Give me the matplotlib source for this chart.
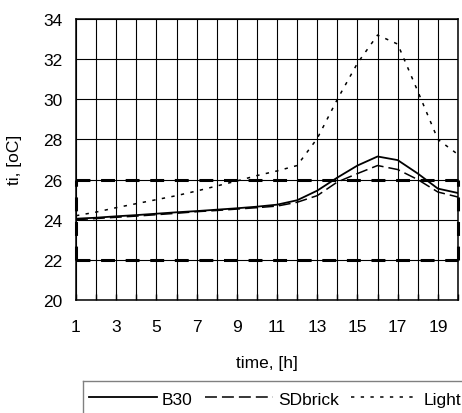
import matplotlib
matplotlib.use("Agg")
import matplotlib.pyplot as plt
from matplotlib.lines import Line2D

plt.rcParams["font.family"] = ["Liberation Sans", "DejaVu Sans"]
plt.rcParams["lines.scale_dashes"] = False

hours = list(range(1, 21))
b30 = [24.05, 24.1, 24.17, 24.23, 24.3, 24.37, 24.43, 24.5, 24.57, 24.65,
       24.75, 24.97, 25.45, 26.1, 26.7, 27.15, 26.97, 26.3, 25.55, 25.33]
sdbrick = [24.0, 24.06, 24.12, 24.18, 24.25, 24.32, 24.4, 24.46, 24.53, 24.6,
           24.68, 24.87, 25.2, 25.88, 26.3, 26.7, 26.5, 26.0, 25.38, 25.13]
light = [24.2, 24.38, 24.6, 24.8, 25.0, 25.2, 25.43, 25.68, 25.93, 26.2,
         26.43, 26.7, 28.05, 30.0, 31.8, 33.2, 32.75, 30.4, 28.0, 27.25]
comfort_low, comfort_high = 22, 26
x_labels = [str(h) if h % 2 == 1 else "" for h in hours]
y_ticks = list(range(20, 35, 2))

FS = 12.5

fig = plt.figure(figsize=(4.62, 4.14), dpi=100)
ax = fig.add_axes([76 / 462, 1 - 301 / 414, 382 / 462, 281 / 414])

ax.set_xlim(1, 20)
ax.set_ylim(20, 34)
ax.set_xticks(hours)
ax.set_xticklabels(x_labels)
ax.set_yticks(y_ticks)
ax.tick_params(axis="x", direction="in", length=4, width=1, pad=14, labelsize=FS)
ax.tick_params(axis="y", length=0, pad=10, labelsize=FS)
ax.grid(True, color="black", linewidth=0.8)
for s in ax.spines.values():
    s.set_linewidth(1.1)

# comfort zone box
box_style = dict(color="black", linewidth=2.2, linestyle=(0, (10, 7.7)),
                 zorder=2, clip_on=False)
ax.plot([hours[0], hours[-1]], [comfort_high, comfort_high], **box_style)
ax.plot([hours[0], hours[-1]], [comfort_low, comfort_low], **box_style)
ax.plot([hours[0], hours[0]], [comfort_low, comfort_high], **box_style)
ax.plot([hours[-1], hours[-1]], [comfort_low, comfort_high], **box_style)

l1, = ax.plot(hours, b30, color="black", linewidth=1.3, zorder=4, label="B30")
l2, = ax.plot(hours, sdbrick, color="black", linewidth=1.1,
              linestyle=(0, (8.6, 3.6)), zorder=4, label="SDbrick")
l3, = ax.plot(hours, light, color="black", linewidth=1.1,
              linestyle=(0, (2.4, 4.6)), zorder=4, label="Light")

fig.text(267 / 462, 1 - 364 / 414, "time, [h]", ha="center", va="center", fontsize=FS)
fig.text(15 / 462, 1 - 160 / 414, "ti, [oC]", ha="center", va="center",
         rotation=90, fontsize=FS)

# legend, box runs off the right and bottom edges
fig.legend(handles=[l1, l2, l3], loc="center left", ncol=3, frameon=False,
           bbox_to_anchor=(89 / 462, 1 - 400 / 414), fontsize=FS,
           handlelength=3.9, handletextpad=0.3, columnspacing=0.7,
           borderpad=0, borderaxespad=0)
fig.add_artist(Line2D([83 / 462, 1.0], [1 - 382 / 414, 1 - 382 / 414],
                      transform=fig.transFigure, color="#808080", linewidth=1))
fig.add_artist(Line2D([83 / 462, 83 / 462], [1 - 382 / 414, 0.0],
                      transform=fig.transFigure, color="#808080", linewidth=1))

fig.savefig("out.png", dpi=100)
